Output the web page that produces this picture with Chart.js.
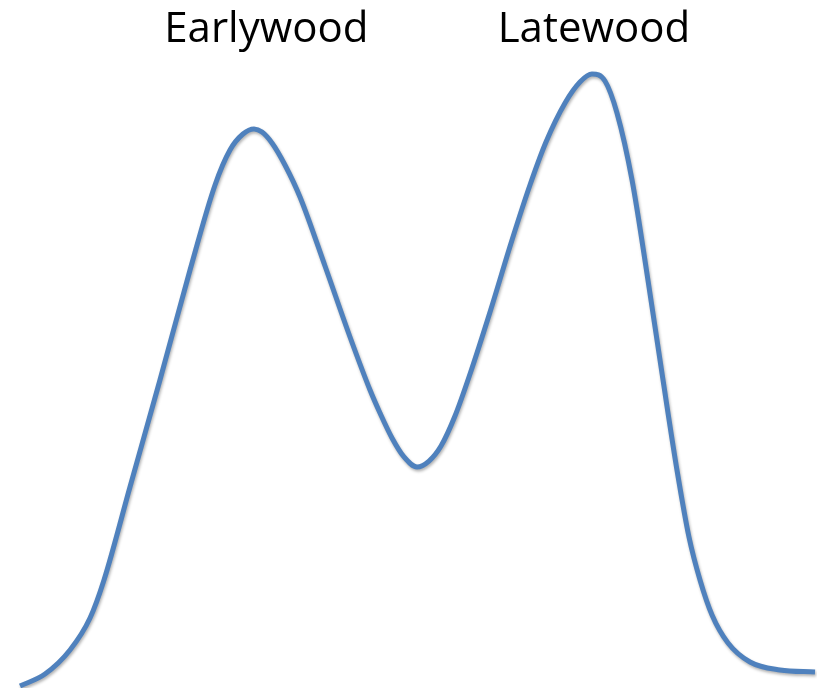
<!DOCTYPE html>
<html>
<head>
<meta charset="utf-8">
<script src="https://cdn.jsdelivr.net/npm/chart.js@4"></script>
<style>
  html, body { margin: 0; padding: 0; background: #fff; }
  canvas { display: block; }
</style>
</head>
<body>
<canvas id="chart" width="817" height="688"></canvas>
<script>
// position across the ring (0-100) and relative density (0-100)
const position = [2.45, 5.51, 8.57, 11.02, 12.73, 15.91, 19.58, 23.26, 26.32, 28.15, 29.74, 31.09,
  32.07, 33.29, 34.88, 36.72, 39.78, 42.84, 45.29, 46.51, 47.98, 49.45, 51.04,
  52.51, 53.98, 55.69, 57.53, 59.98, 62.67, 64.87, 66.83, 69.16, 70.99, 72.46,
  74.05, 75.52, 77.36, 79.31, 81.15, 82.86, 84.33, 85.68, 87.15, 89.11, 91.80, 95.47, 99.76];
const density = [0.29, 2.03, 5.52, 10.17, 15.70, 29.22, 44.77, 60.76, 73.11, 78.20, 80.52, 81.25,
  80.81, 79.22, 76.02, 71.37, 61.34, 51.02, 43.31, 39.97, 36.34, 33.58, 32.12,
  32.99, 35.17, 39.53, 45.64, 54.65, 65.12, 73.11, 79.36, 85.03, 88.08, 89.24,
  88.23, 83.58, 73.84, 59.30, 44.77, 31.69, 21.95, 15.70, 10.61, 6.54, 3.78, 2.62, 2.33];

const zoneLabels = ['Earlywood', 'Latewood'];
const zoneLabelX = [32.6, 72.7];
const zoneLabelY = 93.9;

const points = position.map((x, i) => ({ x: x, y: density[i] }));

// soft drop shadow under the curve
const shadowPlugin = {
  id: 'shadow',
  beforeDatasetsDraw(chart) {
    const ctx = chart.ctx;
    ctx.save();
    ctx.shadowColor = 'rgba(0, 0, 0, 0.3)';
    ctx.shadowBlur = 3;
    ctx.shadowOffsetX = 1;
    ctx.shadowOffsetY = 2;
  },
  afterDatasetsDraw(chart) {
    chart.ctx.restore();
  }
};

// zone names above the peaks
const labelPlugin = {
  id: 'zoneLabels',
  afterDraw(chart) {
    const ctx = chart.ctx;
    const xs = chart.scales.x;
    const ys = chart.scales.y;
    ctx.save();
    ctx.fillStyle = '#000';
    ctx.font = '42px "Open Sans"';
    ctx.textAlign = 'center';
    ctx.textBaseline = 'alphabetic';
    zoneLabels.forEach((txt, i) => {
      ctx.fillText(txt, xs.getPixelForValue(zoneLabelX[i]), ys.getPixelForValue(zoneLabelY));
    });
    ctx.restore();
  }
};

new Chart(document.getElementById('chart'), {
  type: 'line',
  data: {
    datasets: [{
      data: points,
      borderColor: '#4f81bd',
      borderWidth: 5,
      pointRadius: 0,
      fill: false,
      cubicInterpolationMode: 'monotone',
      clip: false
    }]
  },
  options: {
    responsive: false,
    animation: false,
    layout: { padding: 0 },
    scales: {
      x: { type: 'linear', display: false, min: 0, max: 100 },
      y: { display: false, min: 0, max: 100 }
    },
    plugins: {
      legend: { display: false },
      tooltip: { enabled: false }
    }
  },
  plugins: [shadowPlugin, labelPlugin]
});
</script>
</body>
</html>
